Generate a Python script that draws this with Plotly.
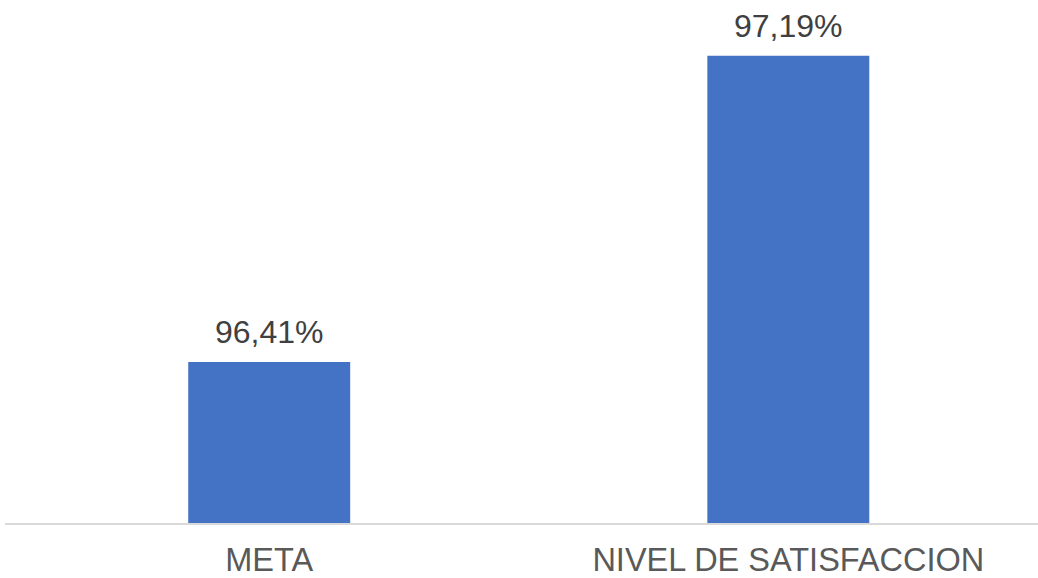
import plotly.graph_objects as go

categories = ["META", "NIVEL DE SATISFACCION"]
values = [96.41, 97.19]
labels = ["96,41%", "97,19%"]
base_value = 96.0

fig = go.Figure()
fig.add_trace(go.Bar(x=categories, y=[v - base_value for v in values], base=base_value,
                     marker_color="#4472C4", width=0.312, marker_line_width=0))

for c, v, t in zip(categories, values, labels):
    fig.add_annotation(x=c, y=v, text=t, showarrow=False, yanchor="bottom", yshift=10,
                       font=dict(family="Liberation Sans, Arial", size=32, color="#404040"))

fig.update_layout(
    width=1038, height=578,
    margin=dict(l=5, r=0, t=0, b=52),
    plot_bgcolor="white", paper_bgcolor="white",
    showlegend=False,
    xaxis=dict(range=[-0.509, 1.481], showline=True, linecolor="#D9D9D9", linewidth=2,
               showgrid=False, ticks="", ticklabelstandoff=7,
               tickfont=dict(family="Liberation Sans, Arial", size=32.5, color="#595959")),
    yaxis=dict(range=[96.0, 97.332], visible=False, showgrid=False, zeroline=False),
)
fig.write_html("out.html", config={"displayModeBar": False})

with open("out.html", "r", encoding="utf-8") as f:
    html = f.read()
html = html.replace("<head>", "<head><style>html,body{margin:0;padding:0;overflow:hidden;}</style>", 1)
with open("out.html", "w", encoding="utf-8") as f:
    f.write(html)
